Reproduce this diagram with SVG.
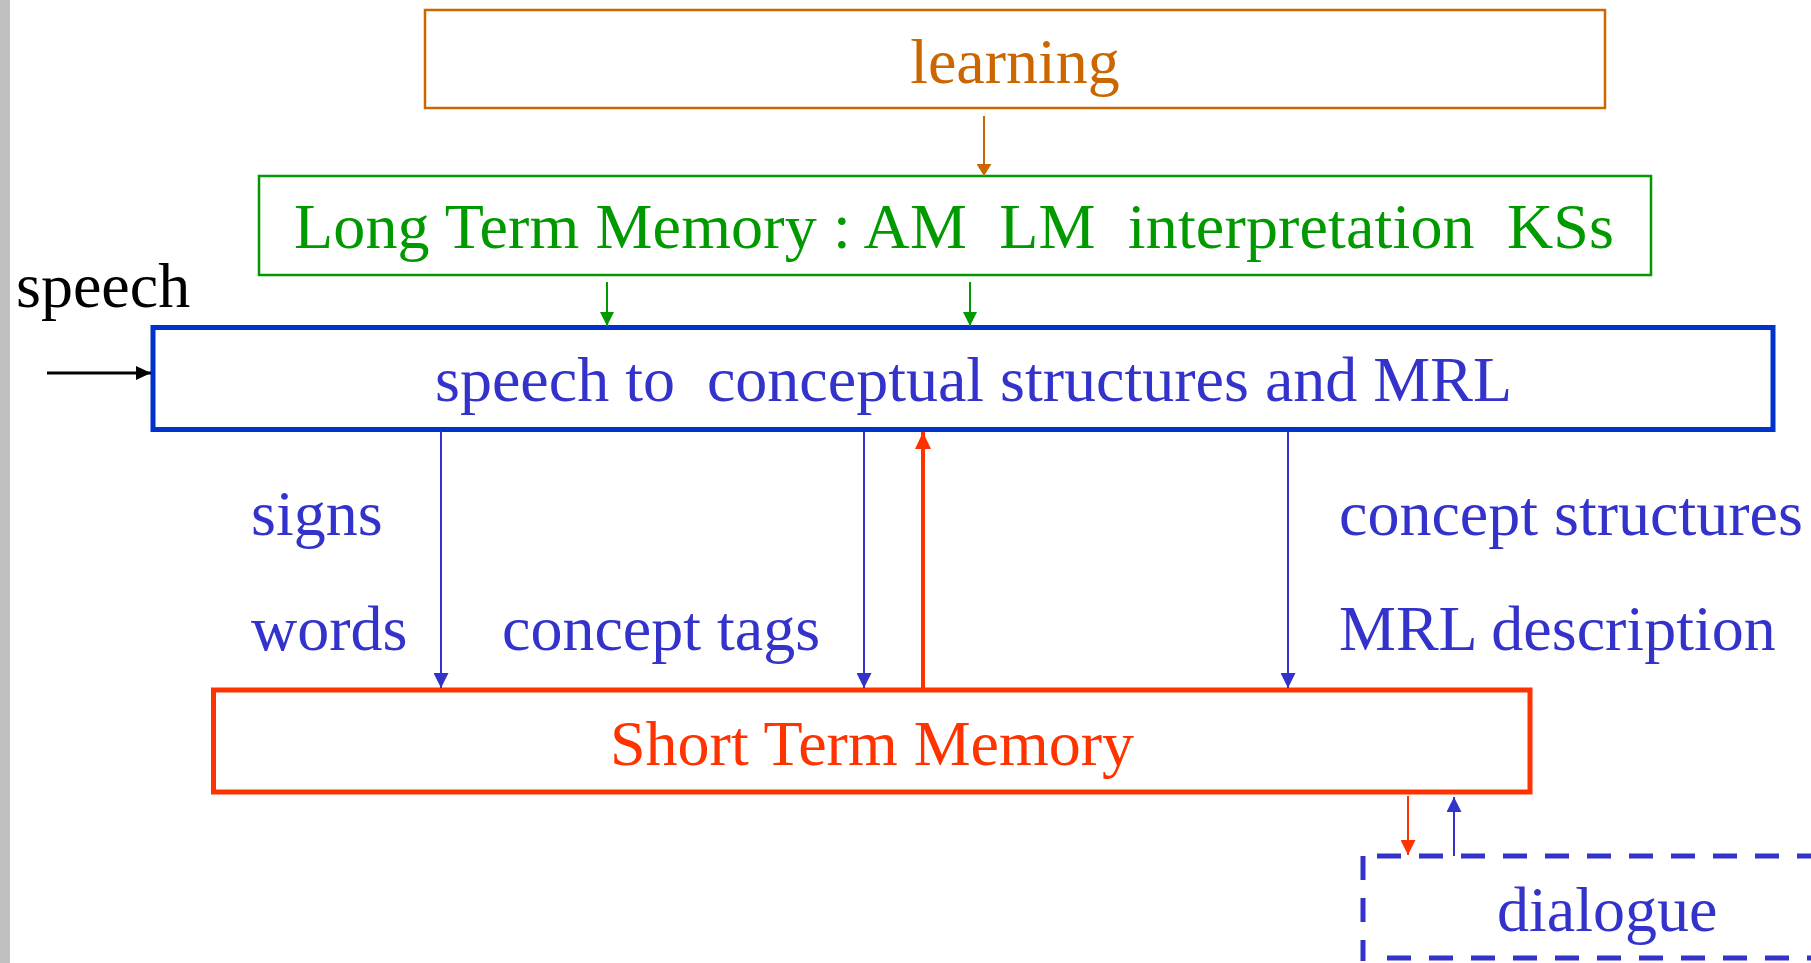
<svg xmlns="http://www.w3.org/2000/svg" width="1811" height="963" viewBox="0 0 1811 963" xml:space="preserve">
<style>
text { font-family: "Liberation Serif", "Times New Roman", serif; font-size: 64px; white-space: pre; }
.box { fill: #ffffff; }
.orange { fill: #cc6600; }
.green { fill: #009900; }
.blue { fill: #3333cc; }
.red { fill: #ff3300; }
.black { fill: #000000; }
</style>
<defs>
<marker id="hOrange" viewBox="0 0 12 15" refX="12" refY="7.5" markerWidth="12" markerHeight="15" markerUnits="userSpaceOnUse" orient="auto"><path d="M0,0 L12,7.5 L0,15 z" fill="#cc6600"/></marker>
<marker id="hGreen" viewBox="0 0 14 14" refX="14" refY="7" markerWidth="14" markerHeight="14" markerUnits="userSpaceOnUse" orient="auto"><path d="M0,0 L14,7 L0,14 z" fill="#009900"/></marker>
<marker id="hBlue" viewBox="0 0 15 15" refX="15" refY="7.5" markerWidth="15" markerHeight="15" markerUnits="userSpaceOnUse" orient="auto"><path d="M0,0 L15,7.5 L0,15 z" fill="#3333cc"/></marker>
<marker id="hRed" viewBox="0 0 15 15" refX="15" refY="7.5" markerWidth="15" markerHeight="15" markerUnits="userSpaceOnUse" orient="auto"><path d="M0,0 L15,7.5 L0,15 z" fill="#ff3300"/></marker>
<marker id="hRedBig" viewBox="0 0 17 16" refX="17" refY="8" markerWidth="17" markerHeight="16" markerUnits="userSpaceOnUse" orient="auto"><path d="M0,0 L17,8 L0,16 z" fill="#ff3300"/></marker>
<marker id="hBlack" viewBox="0 0 15 14" refX="15" refY="7" markerWidth="15" markerHeight="14" markerUnits="userSpaceOnUse" orient="auto"><path d="M0,0 L15,7 L0,14 z" fill="#000000"/></marker>
</defs>
<rect x="0" y="0" width="1811" height="963" fill="#ffffff"/>
<rect x="0" y="0" width="10" height="963" fill="#c0c0c0"/>

<g id="learning">
<rect class="box" x="425" y="10" width="1180" height="98" stroke="#cc6600" stroke-width="2.5"/>
<text class="orange" x="1015" y="83" text-anchor="middle">learning</text>
</g>

<g id="long-term-memory">
<rect class="box" x="259" y="176" width="1392" height="99" stroke="#009900" stroke-width="2.5"/>
<text class="green" x="294" y="248" textLength="1320" lengthAdjust="spacing">Long Term Memory : AM  LM  interpretation  KSs</text>
</g>

<g id="speech-input">
<text class="black" x="16" y="307">speech</text>
</g>

<g id="speech-to-conceptual">
<rect class="box" x="153" y="327.5" width="1620" height="102" stroke="#0033cc" stroke-width="5"/>
<text class="blue" x="435" y="401">speech to  conceptual structures and MRL</text>
</g>

<g id="short-term-memory">
<rect class="box" x="213.5" y="690" width="1316.5" height="102" stroke="#ff3300" stroke-width="5"/>
<text class="red" x="610" y="765">Short Term Memory</text>
</g>

<g id="dialogue">
<line x1="1377" y1="856" x2="1830" y2="856" stroke="#3333cc" stroke-width="5" stroke-dasharray="24 18"/>
<line x1="1363" y1="856" x2="1363" y2="961" stroke="#3333cc" stroke-width="5" stroke-dasharray="24 18"/>
<line x1="1387" y1="958" x2="1830" y2="958" stroke="#3333cc" stroke-width="5" stroke-dasharray="24 18"/>
<text class="blue" x="1497" y="931">dialogue</text>
</g>

<g id="connectors">
<line x1="984" y1="116" x2="984" y2="176" stroke="#cc6600" stroke-width="2" marker-end="url(#hOrange)"/>
<line x1="607" y1="282" x2="607" y2="326" stroke="#009900" stroke-width="2" marker-end="url(#hGreen)"/>
<line x1="970" y1="282" x2="970" y2="326" stroke="#009900" stroke-width="2" marker-end="url(#hGreen)"/>
<line x1="47" y1="373" x2="151" y2="373" stroke="#000000" stroke-width="3" marker-end="url(#hBlack)"/>
<line x1="441" y1="431" x2="441" y2="688" stroke="#3333cc" stroke-width="2" marker-end="url(#hBlue)"/>
<line x1="864" y1="431" x2="864" y2="688" stroke="#3333cc" stroke-width="2" marker-end="url(#hBlue)"/>
<line x1="1288" y1="431" x2="1288" y2="688" stroke="#3333cc" stroke-width="2" marker-end="url(#hBlue)"/>
<line x1="923" y1="688" x2="923" y2="432" stroke="#ff3300" stroke-width="4" marker-end="url(#hRedBig)"/>
<line x1="1408" y1="796" x2="1408" y2="855" stroke="#ff3300" stroke-width="2" marker-end="url(#hRed)"/>
<line x1="1454" y1="856" x2="1454" y2="797" stroke="#3333cc" stroke-width="2" marker-end="url(#hBlue)"/>
</g>

<g id="labels">
<text class="blue" x="251" y="535">signs</text>
<text class="blue" x="251" y="650">words</text>
<text class="blue" x="502" y="650">concept tags</text>
<text class="blue" x="1339" y="535">concept structures</text>
<text class="blue" x="1339" y="650">MRL description</text>
</g>
</svg>
